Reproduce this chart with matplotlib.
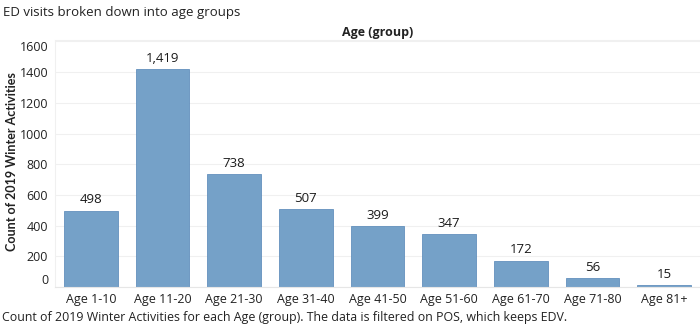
import matplotlib.pyplot as plt
import numpy as np

groups = ["Age 1-10", "Age 11-20", "Age 21-30", "Age 31-40", "Age 41-50",
          "Age 51-60", "Age 61-70", "Age 71-80", "Age 81+"]
counts = [498, 1419, 738, 507, 399, 347, 172, 56, 15]
yticks = [0, 200, 400, 600, 800, 1000, 1200, 1400, 1600]

plt.rcParams['font.family'] = ['Open Sans', 'DejaVu Sans']

fig = plt.figure(figsize=(7, 3.27), dpi=100)
ax = fig.add_axes([0.0786, 0.1223, 0.9214, 0.7511])

x = np.arange(len(groups))
ax.bar(x, counts, width=0.75, color='#75a1c8', edgecolor='#6390bd', linewidth=0.6, zorder=2)

for xi, c in zip(x, counts):
    ax.annotate(f"{c:,}", (xi, c), xytext=(0, 3), textcoords='offset points',
                ha='center', va='bottom', fontsize=9.5, color='#1a1a1a')

ax.set_xlim(-0.5, len(groups) - 0.5)
ax.set_ylim(0, 1600)
ax.set_xticks(x)
ax.set_xticklabels(groups, fontsize=9, color='#222222')
ax.set_yticks(yticks)
ax.set_yticklabels([str(t) for t in yticks], fontsize=9, color='#222222')
ticklabels = ax.get_yticklabels()
ticklabels[0].set_va('bottom')
ticklabels[-1].set_va('top')
ax.tick_params(axis='both', length=0)
ax.tick_params(axis='y', pad=5)
ax.tick_params(axis='x', pad=4)

ax.grid(axis='y', color='#f0f0f0', linewidth=0.8, zorder=0)
for s in ['top', 'right']:
    ax.spines[s].set_visible(False)
ax.spines['left'].set_color('#f0f0f0')
ax.spines['bottom'].set_color('#e6e6e6')

ax.set_ylabel("Count of 2019 Winter Activities", fontsize=9, fontweight='bold',
              color='#222222', family=['Lato', 'DejaVu Sans'])
ax.yaxis.set_label_coords(-0.058, 0.51)

fig.text(0.004, 0.962, "ED visits broken down into age groups", fontsize=9.5,
         color='#222222', va='center', ha='left')
fig.text(0.539, 0.902, "Age (group)", fontsize=9, fontweight='bold',
         color='#222222', va='center', ha='center')
fig.add_artist(plt.Line2D([0.0786, 1.0], [0.877, 0.877], color='#f0f0f0', linewidth=0.8))
fig.text(0.003, 0.028, "Count of 2019 Winter Activities for each Age (group). The data is filtered on POS, which keeps EDV.",
         fontsize=8.9, color='#222222', va='center', ha='left')

fig.savefig("out.png", dpi=100)
